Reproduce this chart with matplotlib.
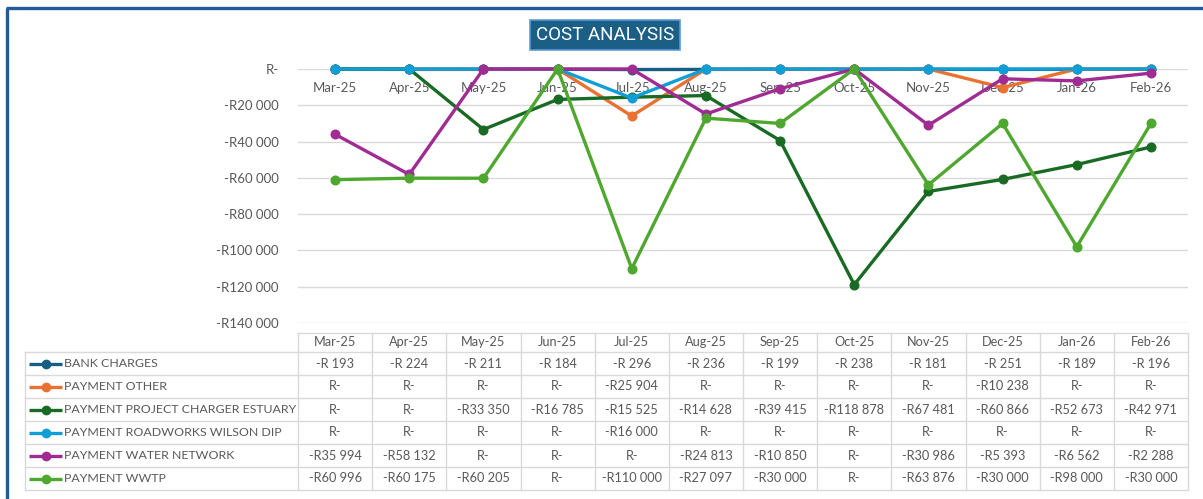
import matplotlib
matplotlib.use("Agg")
import matplotlib.pyplot as plt

plt.rcParams['font.family'] = ['Lato', 'DejaVu Sans']

months = ['Mar-25', 'Apr-25', 'May-25', 'Jun-25', 'Jul-25', 'Aug-25',
          'Sep-25', 'Oct-25', 'Nov-25', 'Dec-25', 'Jan-26', 'Feb-26']

series_names = ['BANK CHARGES', 'PAYMENT OTHER', 'PAYMENT PROJECT CHARGER ESTUARY',
                'PAYMENT ROADWORKS WILSON DIP', 'PAYMENT WATER NETWORK', 'PAYMENT WWTP']

bank = [-193, -224, -211, -184, -296, -236, -199, -238, -181, -251, -189, -196]
other = [0, 0, 0, 0, -25904, 0, 0, 0, 0, -10238, 0, 0]
estuary = [0, 0, -33350, -16785, -15525, -14628, -39415, -118878, -67481, -60866, -52673, -42971]
roadworks = [0, 0, 0, 0, -16000, 0, 0, 0, 0, 0, 0, 0]
water = [-35994, -58132, 0, 0, 0, -24813, -10850, 0, -30986, -5393, -6562, -2288]
wwtp = [-60996, -60175, -60205, 0, -110000, -27097, -30000, 0, -63876, -30000, -98000, -30000]

all_series = [bank, other, estuary, roadworks, water, wwtp]
colors = ['#156082', '#E97132', '#196B24', '#0F9ED5', '#A02B93', '#4EA72E']

W, H = 1203, 499
grey_txt = '#595959'
grid_c = '#D9D9D9'


def rand_fmt(v):
    if v == 0:
        return 'R-'
    n = int(round(abs(v)))
    s = '{:,}'.format(n).replace(',', ' ')
    if n < 1000:
        return '-R ' + s
    return '-R' + s


fig = plt.figure(figsize=(W / 100, H / 100), dpi=100)
ax = fig.add_axes([298 / W, 1 - 323 / H, 890 / W, 254 / H])
ax.set_xlim(-0.5, len(months) - 0.5)
ax.set_ylim(-140000, 0)

for vals, c in zip(all_series, colors):
    ax.plot(range(len(months)), vals, color=c, lw=2.4, marker='o', markersize=6.2,
            clip_on=False, zorder=3)

ax.set_yticks(range(-140000, 1, 20000))
ax.set_yticklabels([rand_fmt(t) for t in range(-140000, 1, 20000)])
ax.tick_params(axis='y', length=0, pad=14, labelsize=9.5, labelcolor=grey_txt)
ax.set_xticks([])
ax.yaxis.grid(True, color=grid_c, lw=1)
ax.set_axisbelow(True)
for sp in ax.spines.values():
    sp.set_visible(False)

for i, m in enumerate(months):
    ax.annotate(m, (i, 0), xytext=(0, -13.5), textcoords='offset points',
                ha='center', va='center', fontsize=9.5, color=grey_txt, zorder=2)

# overlay in pixel coordinates for the data table and frame
lay = fig.add_axes([0, 0, 1, 1])
lay.set_xlim(0, W)
lay.set_ylim(H, 0)
lay.axis('off')

col_edges = [ax.transData.transform((i - 0.5, 0))[0] for i in range(len(months) + 1)]
col_mid = [(a + b) / 2 for a, b in zip(col_edges[:-1], col_edges[1:])]
head_top, row_top, row_h = 333, 352, 23
rows_y = [row_top + k * row_h for k in range(len(series_names) + 1)]
leg_left = 25

# grid lines
lay.plot([col_edges[0], col_edges[-1]], [head_top, head_top], color=grid_c, lw=1)
for y in rows_y:
    lay.plot([leg_left, col_edges[-1]], [y, y], color=grid_c, lw=1)
for x in col_edges:
    lay.plot([x, x], [head_top, rows_y[-1]], color=grid_c, lw=1)
lay.plot([leg_left, leg_left], [row_top, rows_y[-1]], color=grid_c, lw=1)

for j, m in enumerate(months):
    lay.text(col_mid[j], (head_top + row_top) / 2, m, ha='center', va='center',
             fontsize=9.2, color=grey_txt)

for k, (name, vals, c) in enumerate(zip(series_names, all_series, colors)):
    yc = rows_y[k] + row_h / 2
    lay.plot([29, 62], [yc, yc], color=c, lw=2.4, solid_capstyle='butt')
    lay.plot([45.5], [yc], marker='o', color=c, markersize=6)
    lay.text(64, yc, name, ha='left', va='center', fontsize=8.9, color=grey_txt)
    for j, v in enumerate(vals):
        lay.text(col_mid[j], yc, rand_fmt(v), ha='center', va='center',
                 fontsize=9.2, color=grey_txt)

# outer frame (left and top edges visible)
lay.plot([7, 7], [8, H], color='#1F5C99', lw=2.4, solid_capstyle='butt')
lay.plot([6, W], [8, 8], color='#1F5C99', lw=2.4, solid_capstyle='butt')

fig.text(605 / W, 1 - 35 / H, 'COST ANALYSIS', ha='center', va='center',
         fontsize=13.5, color='white', family=['Roboto', 'DejaVu Sans'],
         bbox=dict(boxstyle='square,pad=0.32', fc='#1B5E86', ec='#5B9BD5', lw=1.2))

fig.savefig('out.png', dpi=100)
